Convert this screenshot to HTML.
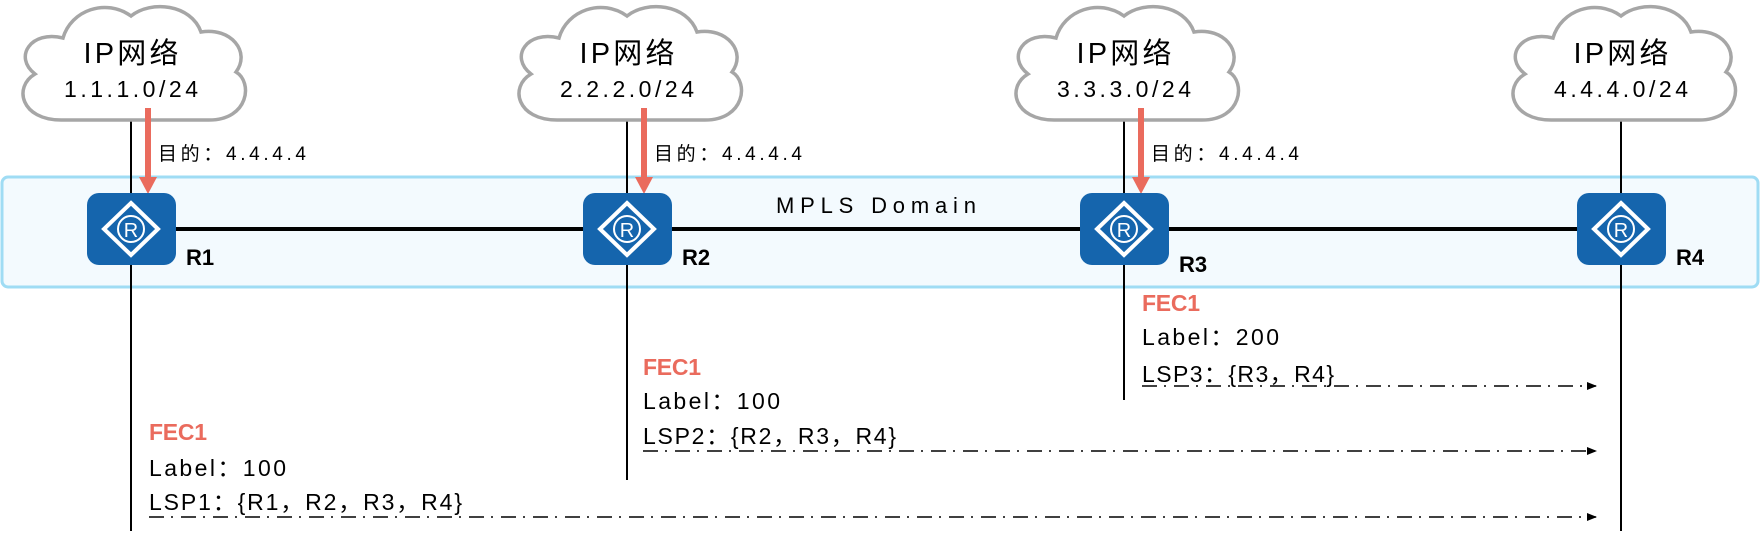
<!DOCTYPE html>
<html><head><meta charset="utf-8"><style>
body{margin:0;background:#fff;}
svg text{font-family:"Liberation Sans","Noto Sans CJK SC",sans-serif;}
</style></head><body>
<svg width="1761" height="540" viewBox="0 0 1761 540" xmlns="http://www.w3.org/2000/svg">
<defs>
<g id="cloud"><path d="M-70,118 C-110,118 -118,85 -96,72 C-118,55 -100,28 -68,36 C-60,8 -25,-4 0,14 C20,-2 60,2 70,30 C100,25 120,50 105,70 C122,80 118,118 78,118 Z" fill="#fff" stroke="#a6a6a6" stroke-width="3.5"/></g>
<g id="router">
<rect x="-44" y="0" width="89" height="72" rx="12" fill="#1565ad"/>
<path d="M0,10 L27,36 L0,62 L-27,36 Z" fill="none" stroke="#fff" stroke-width="4"/>
<circle cx="0" cy="36" r="13" fill="none" stroke="#fff" stroke-width="2"/>
<text x="0" y="44" font-size="20" fill="#fff" text-anchor="middle">R</text>
</g>
<marker id="ah" markerWidth="10" markerHeight="10" refX="9" refY="5" orient="auto" markerUnits="userSpaceOnUse"><path d="M0,1 L10,5 L0,9 Z" fill="#000"/></marker>
</defs>
<rect x="2" y="177" width="1756" height="110" rx="6" fill="#f3fafe" stroke="#9fdcf4" stroke-width="3"/>
<g stroke="#000" stroke-width="2">
<line x1="131" y1="118" x2="131" y2="531"/>
<line x1="627" y1="118" x2="627" y2="480"/>
<line x1="1124" y1="118" x2="1124" y2="400"/>
<line x1="1621" y1="118" x2="1621" y2="531"/>
</g>
<line x1="131" y1="229" x2="1621" y2="229" stroke="#000" stroke-width="4"/>
<use href="#cloud" x="131" y="2"/>
<use href="#cloud" x="627" y="2"/>
<use href="#cloud" x="1124" y="2"/>
<use href="#cloud" x="1621" y="2"/>
<g font-size="29" text-anchor="middle" fill="#000">
<text x="131" y="63" textLength="95">IP网络</text><text x="627" y="63" textLength="95">IP网络</text><text x="1124" y="63" textLength="95">IP网络</text><text x="1621" y="63" textLength="95">IP网络</text>
</g>
<g font-size="23" text-anchor="middle" fill="#000">
<text x="131" y="97" textLength="134">1.1.1.0/24</text><text x="627" y="97" textLength="134">2.2.2.0/24</text><text x="1124" y="97" textLength="134">3.3.3.0/24</text><text x="1621" y="97" textLength="134">4.4.4.0/24</text>
</g>
<g fill="#ea6b5d" stroke="none">
<rect x="145" y="108" width="6" height="72"/><path d="M139,177 L157,177 L148,194 Z"/>
<rect x="641" y="108" width="6" height="72"/><path d="M635,177 L653,177 L644,194 Z"/>
<rect x="1138" y="108" width="6" height="72"/><path d="M1132,177 L1150,177 L1141,194 Z"/>
</g>
<g font-size="19" fill="#000">
<text x="158" y="160" textLength="148">目的：4.4.4.4</text>
<text x="654" y="160" textLength="148">目的：4.4.4.4</text>
<text x="1151" y="160" textLength="148">目的：4.4.4.4</text>
</g>
<use href="#router" x="131" y="193"/>
<use href="#router" x="627" y="193"/>
<use href="#router" x="1124" y="193"/>
<use href="#router" x="1621" y="193"/>
<g font-size="22" font-weight="bold" fill="#000">
<text x="186" y="265">R1</text><text x="682" y="265">R2</text><text x="1179" y="272">R3</text><text x="1676" y="265">R4</text>
</g>
<text x="876" y="213" font-size="22" text-anchor="middle" fill="#000" textLength="200">MPLS Domain</text>
<g font-size="23" fill="#000">
<text x="1142" y="311" fill="#ea6b5d" font-weight="bold" textLength="58">FEC1</text>
<text x="1142" y="345" textLength="137">Label：200</text>
<text x="1142" y="382" textLength="192">LSP3：{R3，R4}</text>
<text x="643" y="375" fill="#ea6b5d" font-weight="bold" textLength="58">FEC1</text>
<text x="643" y="409" textLength="137">Label：100</text>
<text x="643" y="444" textLength="253">LSP2：{R2，R3，R4}</text>
<text x="149" y="440" fill="#ea6b5d" font-weight="bold" textLength="58">FEC1</text>
<text x="149" y="476" textLength="137">Label：100</text>
<text x="149" y="510" textLength="313">LSP1：{R1，R2，R3，R4}</text>
</g>
<g stroke="#000" stroke-width="1.5" stroke-dasharray="15 7 2 8" marker-end="url(#ah)">
<line x1="1142" y1="386" x2="1596" y2="386"/>
<line x1="643" y1="451" x2="1596" y2="451"/>
<line x1="149" y1="517" x2="1596" y2="517"/>
</g>
</svg>
</body></html>
